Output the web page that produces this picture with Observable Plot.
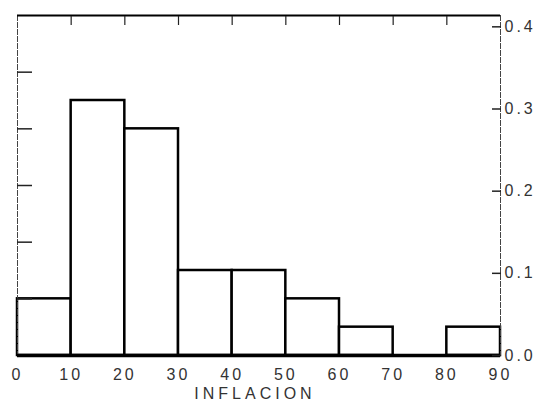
<!DOCTYPE html>
<html>
<head>
<meta charset="utf-8">
<script src="https://cdn.jsdelivr.net/npm/d3@7"></script>
<script src="https://cdn.jsdelivr.net/npm/@observablehq/plot@0.6"></script>
<style>
  html, body { margin: 0; padding: 0; background: #fff; }
  svg text { font-family: "Liberation Sans Narrow", "Liberation Sans", Arial, sans-serif; }
  svg [aria-label="x-axis tick label"] text,
  svg [aria-label="y-axis tick label"] text { letter-spacing: 3px; }
  svg [aria-label="text"] text { letter-spacing: 4px; }
</style>
</head>
<body>
<div id="chart"></div>
<script>
// Histogram of INFLACION (bin edges, counts per bin)
const binEdges = [0, 10, 20, 30, 40, 50, 60, 70, 80, 90];
const counts = [2, 9, 8, 3, 3, 2, 1, 0, 1];
const total = d3.sum(counts);
const rightTicks = [0, 0.1, 0.2, 0.3, 0.4];
const rightTickLabels = ["0.0", "0.1", "0.2", "0.3", "0.4"];
const leftTickCounts = [2, 4, 6, 8, 10];
const xTicks = [0, 10, 20, 30, 40, 50, 60, 70, 80, 90];
const xTitle = "INFLACION";
const yMaxCount = 12;

const bars = counts.map((c, i) => ({x1: binEdges[i], x2: binEdges[i + 1], frac: c / total}));
const yTop = yMaxCount / total;
const noLabel = () => "";

const plot = Plot.plot({
  width: 544,
  height: 410,
  marginLeft: 17,
  marginRight: 44,
  marginTop: 15,
  marginBottom: 55,
  x: {domain: [0, 90]},
  y: {domain: [0, yTop]},
  style: {fontSize: "16px", color: "#222", background: "white"},
  marks: [
    Plot.rect(bars, {x1: "x1", x2: "x2", y1: 0, y2: "frac", fill: "white", stroke: "black", strokeWidth: 2.5}),
    Plot.ruleX([0], {stroke: "#444", strokeWidth: 1, strokeDasharray: "6,1"}),
    Plot.ruleX([90], {stroke: "#444", strokeWidth: 1, strokeDasharray: "6,1"}),
    Plot.ruleY([yTop], {stroke: "black", strokeWidth: 2}),
    Plot.ruleY([0], {stroke: "black", strokeWidth: 3.5}),
    // inward tick marks (shifted into the frame)
    Plot.axisY(leftTickCounts.map(c => c / total), {anchor: "left", tickSize: 15, dx: 15, tickFormat: noLabel, label: null, strokeWidth: 1.5}),
    Plot.axisY(rightTicks, {anchor: "right", tickSize: 9, dx: -9, tickFormat: noLabel, label: null, strokeWidth: 1.5}),
    Plot.axisX(xTicks.slice(1, -1), {anchor: "top", tickSize: 9, dy: 9, tickFormat: noLabel, label: null, strokeWidth: 1.2}),
    // labels
    Plot.axisY(rightTicks, {anchor: "right", tickSize: 0, tickPadding: 4, tickFormat: (d, i) => rightTickLabels[i], label: null, fill: "#333", fontSize: 16, textAnchor: "start"}),
    Plot.axisX(xTicks, {anchor: "bottom", tickSize: 0, tickPadding: 13, label: null, fill: "#333", fontSize: 16}),
    Plot.text([xTitle], {frameAnchor: "bottom", dy: 43, fontSize: 16, fill: "#333", dx: -4})
  ]
});
document.getElementById("chart").appendChild(plot);
</script>
</body>
</html>
